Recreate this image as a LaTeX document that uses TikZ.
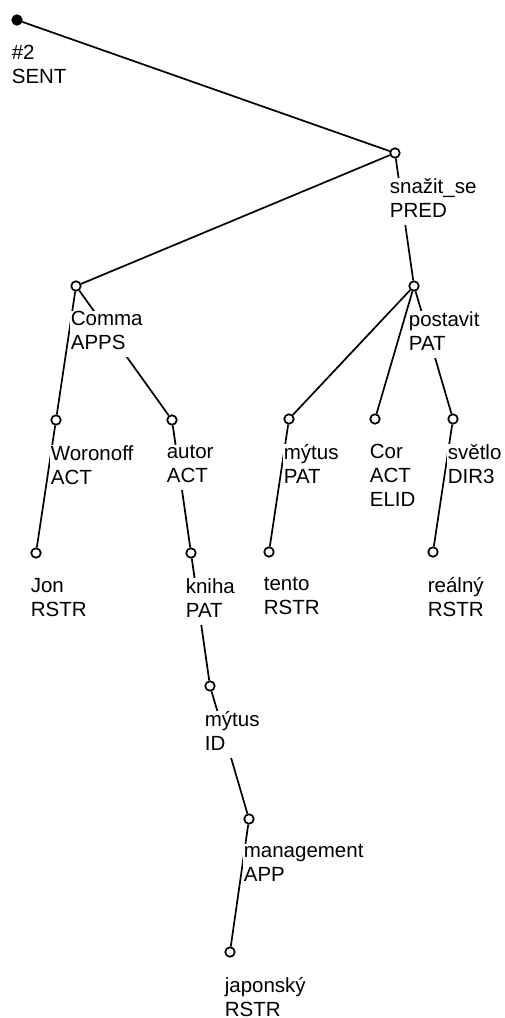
\documentclass[tikz,border=0pt]{standalone}
\usepackage{fontspec}
\setmainfont{Liberation Sans}
\usetikzlibrary{positioning}

\tikzset{
  tnode/.style={circle, draw, fill=white, inner sep=0pt, minimum size=9.5pt},
  troot/.style={tnode, fill=black},
  lbl/.style={fill=white, inner xsep=1pt, inner ysep=0.5pt, align=left,
    font=\fontsize{20.5}{24}\selectfont,
    execute at begin node=\strut,
    below right=24pt and -7pt of #1.center},
}

\begin{document}
\begin{tikzpicture}[x=1pt, y=1pt, line width=1.7pt]
    \useasboundingbox (0,0) rectangle (505,-1018);

    \node[troot] (R)  at (17,-20)   {};
    \node[tnode] (S)  at (395,-153) {};
    \node[tnode] (C)  at (76,-286)  {};
    \node[tnode] (P)  at (414,-286) {};
    \node[tnode] (W)  at (56,-420)  {};
    \node[tnode] (A)  at (172,-420) {};
    \node[tnode] (M)  at (289,-419) {};
    \node[tnode] (Co) at (375,-419) {};
    \node[tnode] (Sv) at (453,-419) {};
    \node[tnode] (J)  at (36,-553)  {};
    \node[tnode] (K)  at (191,-553) {};
    \node[tnode] (T)  at (269,-552) {};
    \node[tnode] (Re) at (433,-552) {};
    \node[tnode] (MI) at (210,-686) {};
    \node[tnode] (Ma) at (249,-819) {};
    \node[tnode] (Ja) at (230,-952) {};

    \path (R) edge (S)
          (S) edge (C)
              edge (P)
          (C) edge (W)
              edge (A)
          (W) edge (J)
          (A) edge (K)
          (K) edge (MI)
          (MI) edge (Ma)
          (Ma) edge (Ja)
          (P) edge (M)
              edge (Co)
              edge (Sv)
          (M) edge (T)
          (Sv) edge (Re);

    \node[lbl=R]  (lR)  {\#2\\SENT};
    \node[lbl=S]  (lS)  {snažit\_se\\PRED\strut};
    \node[lbl=C]  (lC)  {Comma\\APPS\strut};
    \node[lbl=P]  (lP)  {postavit\\PAT\strut};
    \node[lbl=W]  (lW)  {Woronoff\\ACT\strut};
    \node[lbl=A]  (lA)  {autor\\ACT\strut};
    \node[lbl=M]  (lM)  {mýtus\\PAT};
    \node[lbl=Co] (lCo) {Cor\\ACT\\ELID};
    \node[lbl=Sv] (lSv) {světlo\\DIR3\strut};
    \node[lbl=J]  (lJ)  {Jon\\RSTR};
    \node[lbl=K]  (lK)  {kniha\\PAT\strut};
    \node[lbl=T]  (lT)  {tento\\RSTR};
    \node[lbl=Re] (lRe) {reálný\\RSTR};
    \node[lbl=MI] (lMI) {mýtus\\ID\strut};
    \node[lbl=Ma] (lMa) {management\\APP};
    \node[lbl=Ja] (lJa) {japonský\\RSTR};
\end{tikzpicture}
\end{document}
